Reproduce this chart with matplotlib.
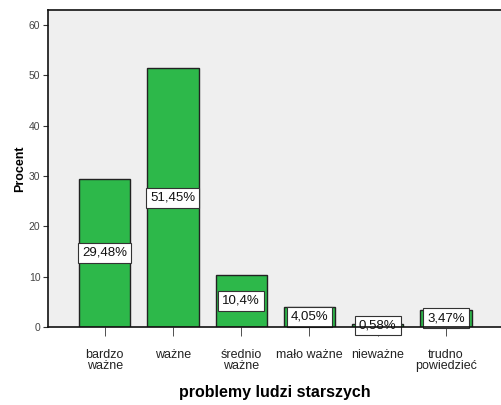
import numpy as np
import matplotlib
matplotlib.use("Agg")
import matplotlib.pyplot as plt

plt.rcParams['font.family'] = ['Liberation Sans', 'DejaVu Sans']

categories = ["bardzo\nważne", "ważne", "średnio\nważne", "mało ważne", "nieważne", "trudno\npowiedzieć"]
values = [29.48, 51.45, 10.4, 4.05, 0.58, 3.47]
value_labels = ["29,48%", "51,45%", "10,4%", "4,05%", "0,58%", "3,47%"]
yticks = [0, 10, 20, 30, 40, 50, 60]

fig = plt.figure(figsize=(5.02, 4.05), dpi=100)
ax = fig.add_axes([48/502, 78/405, 1 - 48/502, 317.5/405])
ax.set_facecolor("#efefef")

x = np.arange(len(categories))
bars = ax.bar(x, values, width=0.75, color="#2db84a", edgecolor="#222222", linewidth=1.0, zorder=2)

for xi, v, lab in zip(x, values, value_labels):
    ax.text(xi, v / 2, lab, ha="center", va="center", fontsize=9.5, color="#111111", zorder=3,
            bbox=dict(boxstyle="square,pad=0.3", facecolor="white", edgecolor="#333333", linewidth=0.8))

ax.set_xlim(-0.83, 5.82)
ax.set_ylim(0, 63.1)
ax.set_yticks(yticks)
ax.set_yticklabels([str(t) for t in yticks], fontsize=7.5, color="#444444")
ax.set_xticks(x)
ax.set_xticklabels(categories, fontsize=9, color="#222222", linespacing=0.95)
ax.tick_params(axis="y", length=3.5, width=0.8, color="#333333", pad=2)
ax.tick_params(axis="x", length=6.5, width=0.6, color="#333333", pad=9)

for side in ["left", "top", "bottom"]:
    ax.spines[side].set_linewidth(1.2)
    ax.spines[side].set_color("#111111")
ax.spines["right"].set_visible(False)
ax.spines["bottom"].set_zorder(4)

ax.set_ylabel("Procent", fontsize=9, fontweight="bold", labelpad=2)
ax.set_xlabel("problemy ludzi starszych", fontsize=11.5, fontweight="bold", labelpad=9)

fig.savefig("out.png", dpi=100)
